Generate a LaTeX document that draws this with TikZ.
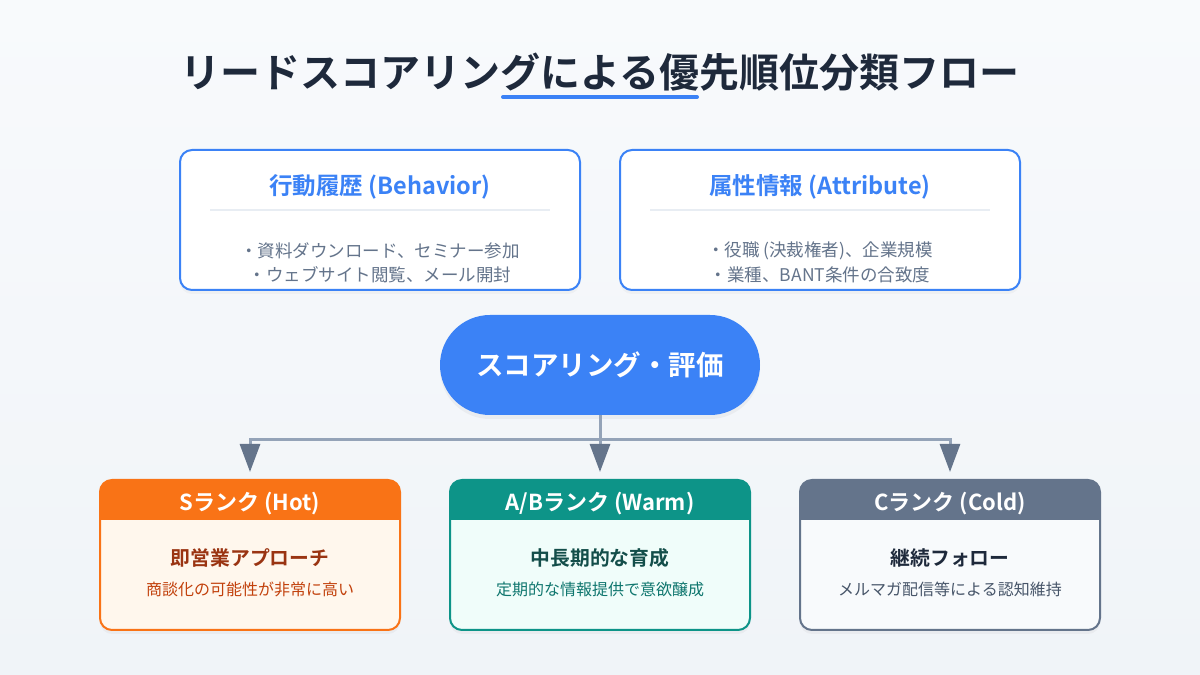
\documentclass[tikz,border=0pt]{standalone}
\usepackage{fontspec}
\setmainfont{Noto Sans CJK JP}[BoldFont={Noto Sans CJK JP Bold}]
\usetikzlibrary{arrows.meta,calc,shadows}
\definecolor{bgtop}{HTML}{F8FAFC}
\definecolor{bgbot}{HTML}{F0F4F8}
\definecolor{titlec}{HTML}{1E293B}
\definecolor{blue1}{HTML}{3B82F6}
\definecolor{graytext}{HTML}{64748B}
\definecolor{sepc}{HTML}{E8EDF3}
\definecolor{linec}{HTML}{94A3B8}
\definecolor{arrc}{HTML}{64748B}
\definecolor{orh}{HTML}{F97316}
\definecolor{orb}{HTML}{FFF7ED}
\definecolor{ort}{HTML}{9A3412}
\definecolor{ors}{HTML}{C2410C}
\definecolor{teh}{HTML}{0D9488}
\definecolor{teb}{HTML}{F0FDFA}
\definecolor{tet}{HTML}{134E4A}
\definecolor{tes}{HTML}{0F766E}
\definecolor{slh}{HTML}{64748B}
\definecolor{slb}{HTML}{F8FAFC}
\definecolor{slt}{HTML}{1E293B}
\definecolor{sls}{HTML}{475569}
\pgfdeclarelayer{bg}
\pgfsetlayers{bg,main}
\begin{document}
\begin{tikzpicture}[x=1pt,y=1pt,
  topbox/.style={draw=blue1,line width=2pt,fill=white,rounded corners=12pt,
    minimum width=400pt,minimum height=140pt,inner sep=0pt,outer sep=0pt,
    drop shadow={opacity=0.06,shadow xshift=0pt,shadow yshift=-4pt}},
  boxtitle/.style={text=blue1,font=\bfseries\fontsize{23.5}{28}\selectfont,inner sep=0pt},
  boxtext/.style={text=graytext,font=\fontsize{17.5}{21}\selectfont,inner sep=0pt},
  sepline/.style={draw=sepc,line width=1.5pt},
  conn/.style={draw=linec,line width=3pt},
  arr/.style={draw=linec,line width=3pt,-{Triangle[width=20pt,length=28pt,fill=arrc,color=arrc]}},
  pill/.style={fill=blue1,rounded corners=50pt,minimum width=320pt,minimum height=100pt,
    text=white,font=\bfseries\fontsize{27.5}{32}\selectfont,inner sep=0pt,
    drop shadow={opacity=0.08,shadow xshift=0pt,shadow yshift=-4pt}},
  rankbox/.style={rounded corners=12pt,minimum width=300pt,minimum height=150pt,
    inner sep=0pt,outer sep=0pt,
    drop shadow={opacity=0.07,shadow xshift=0pt,shadow yshift=-4pt}},
  hdrtext/.style={text=white,font=\bfseries\fontsize{22}{26}\selectfont,inner sep=0pt},
  ranktitle/.style={font=\bfseries\fontsize{19.8}{24}\selectfont,inner sep=0pt},
  ranksub/.style={font=\fontsize{16}{19}\selectfont,inner sep=0pt}
]
\useasboundingbox (0,0) rectangle (1200,675);
\shade[top color=bgtop,bottom color=bgbot] (0,0) rectangle (1200,675);

% title
\node[text=titlec,font=\bfseries\fontsize{40}{48}\selectfont,inner sep=0pt] (title) at (600,603) {リードスコアリングによる優先順位分類フロー};
\coordinate (ul1) at (503,578);
\coordinate (ul2) at (697,578);
\draw[blue1,line width=4pt,line cap=round] (ul1) -- (ul2);

% top boxes
\node[topbox] (lb) at (380,455) {};
\node[topbox] (rb) at (820,455) {};
\node[boxtitle] (lbt) at ([yshift=-37pt]lb.north) {行動履歴 (Behavior)};
\node[boxtitle] (rbt) at ([yshift=-37pt]rb.north) {属性情報 (Attribute)};
\draw[sepline] ([xshift=30pt,yshift=-60pt]lb.north west) -- ([xshift=-30pt,yshift=-60pt]lb.north east);
\draw[sepline] ([xshift=30pt,yshift=-60pt]rb.north west) -- ([xshift=-30pt,yshift=-60pt]rb.north east);
\node[boxtext] (lb1) at ([yshift=-101pt]lb.north) {・資料ダウンロード、セミナー参加};
\node[boxtext] (lb2) at ([yshift=-125pt]lb.north) {・ウェブサイト閲覧、メール開封};
\node[boxtext] (rb1) at ([yshift=-101pt]rb.north) {・役職 (決裁権者)、企業規模};
\node[boxtext] (rb2) at ([yshift=-125pt]rb.north) {・業種、BANT条件の合致度};

% pill
\node[pill] (p) at (600,310) {スコアリング・評価};

% rank boxes
\node[rankbox,fill=orb] (s) at (250,120) {};
\node[rankbox,fill=teb] (ab) at (600,120) {};
\node[rankbox,fill=slb] (c) at (950,120) {};
\foreach \n/\h in {s/orh,ab/teh,c/slh}{
  \begin{scope}
    \clip[rounded corners=12pt] (\n.south west) rectangle (\n.north east);
    \fill[\h] ([yshift=-40pt]\n.north west) rectangle (\n.north east);
  \end{scope}
  \draw[\h,line width=2pt,rounded corners=12pt] (\n.south west) rectangle (\n.north east);
}
\node[hdrtext] (sh) at ([yshift=-24pt]s.north) {Sランク (Hot)};
\node[hdrtext] (abh) at ([yshift=-24pt]ab.north) {A/Bランク (Warm)};
\node[hdrtext] (ch) at ([yshift=-24pt]c.north) {Cランク (Cold)};
\node[ranktitle,text=ort] (st) at ([yshift=-78pt]s.north) {即営業アプローチ};
\node[ranktitle,text=tet] (abt) at ([yshift=-78pt]ab.north) {中長期的な育成};
\node[ranktitle,text=slt] (ct) at ([yshift=-78pt]c.north) {継続フォロー};
\node[ranksub,text=ors] (ss) at ([yshift=-109pt]s.north) {商談化の可能性が非常に高い};
\node[ranksub,text=tes] (abs) at ([yshift=-109pt]ab.north) {定期的な情報提供で意欲醸成};
\node[ranksub,text=sls] (cs) at ([yshift=-109pt]c.north) {メルマガ配信等による認知維持};

% connectors
\coordinate (j) at (600,235);
\begin{pgfonlayer}{bg}
\draw[conn] (lb.south) |- ([yshift=25pt]p.center);
\draw[conn] (rb.south) |- ([yshift=25pt]p.center);
\end{pgfonlayer}
\draw[conn] (p.south) -- (j);
\draw[arr] (j) -| ([yshift=8pt]s.north);
\draw[arr] (j) -| ([yshift=8pt]c.north);
\draw[arr] (j) -- ([yshift=8pt]ab.north);
\end{tikzpicture}
\end{document}
